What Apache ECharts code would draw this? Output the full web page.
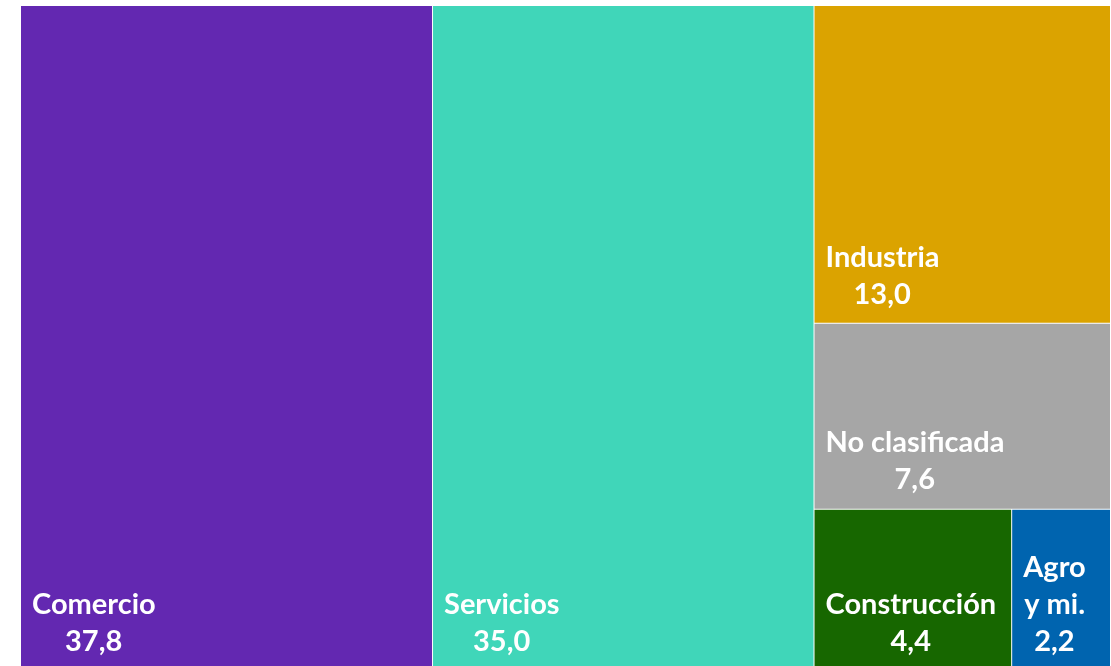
<!DOCTYPE html>
<html>
<head>
<meta charset="utf-8">
<title>Treemap sectores</title>
<script src="https://cdn.jsdelivr.net/npm/echarts@6/dist/echarts.min.js"></script>
<style>
    html, body { margin: 0; padding: 0; background: #fff; }
    #main { width: 1111px; height: 666px; }
</style>
</head>
<body>
<div id="main"></div>
<script>
// datos: participación por sector (%)
var sectores = ['Comercio', 'Servicios', 'Industria', 'No clasificada', 'Construcción', 'Agro y mi.'];
var etiquetas = ['Comercio', 'Servicios', 'Industria', 'No clasificada', 'Construcción', 'Agro\ny mi.'];
var valores = [37.8, 35.0, 13.0, 7.6, 4.4, 2.2];
var colores = ['#6328b1', '#40d6b9', '#dba300', '#a6a6a6', '#176700', '#0064af'];

var FUENTE = 'Lato';
var TAM = 29;
var ALTO_LINEA = 37;

// medir textos para centrar cada línea bajo la más ancha
var ctx = document.createElement('canvas').getContext('2d');
ctx.font = 'bold ' + TAM + 'px ' + FUENTE;
function ancho(t) {
    return ctx.measureText(t).width;
}

var rich = {};
var datos = sectores.map(function (s, i) {
    var lineas = etiquetas[i].split('\n');
    lineas.push(valores[i].toFixed(1).replace('.', ','));
    var max = Math.max.apply(null, lineas.map(ancho));
    var partes = lineas.map(function (l, j) {
        var k = 't' + i + '_' + j;
        rich[k] = {
            color: '#fff',
            fontFamily: FUENTE,
            fontWeight: 'bold',
            fontSize: TAM,
            lineHeight: ALTO_LINEA,
            padding: [0, 0, 0, Math.round((max - ancho(l)) / 2)]
        };
        return '{' + k + '|' + l + '}';
    });
    return {
        name: s,
        value: valores[i],
        texto: partes.join('\n'),
        itemStyle: { color: colores[i] }
    };
});

var chart = echarts.init(document.getElementById('main'), null, { renderer: 'canvas' });

var option = {
    animation: false,
    series: [{
        type: 'treemap',
        left: 20,
        top: 5,
        width: 1091,
        height: 666,
        roam: false,
        nodeClick: false,
        breadcrumb: { show: false },
        squareRatio: 1,
        sort: 'desc',
        itemStyle: {
            borderColor: 'rgba(255,255,255,0.6)',
            borderWidth: 0.5,
            gapWidth: 0
        },
        label: {
            show: true,
            padding: 0,
            formatter: function (p) {
                return p.data.texto;
            },
            rich: rich
        },
        // etiqueta abajo a la izquierda de cada rectángulo
        labelLayout: function (p) {
            var n = p.text.split('\n').length;
            return {
                x: p.rect.x + 11,
                y: p.rect.y + p.rect.height - n * ALTO_LINEA - 10,
                align: 'left',
                verticalAlign: 'top'
            };
        },
        emphasis: { disabled: true },
        data: datos
    }]
};

chart.setOption(option);
</script>
</body>
</html>
